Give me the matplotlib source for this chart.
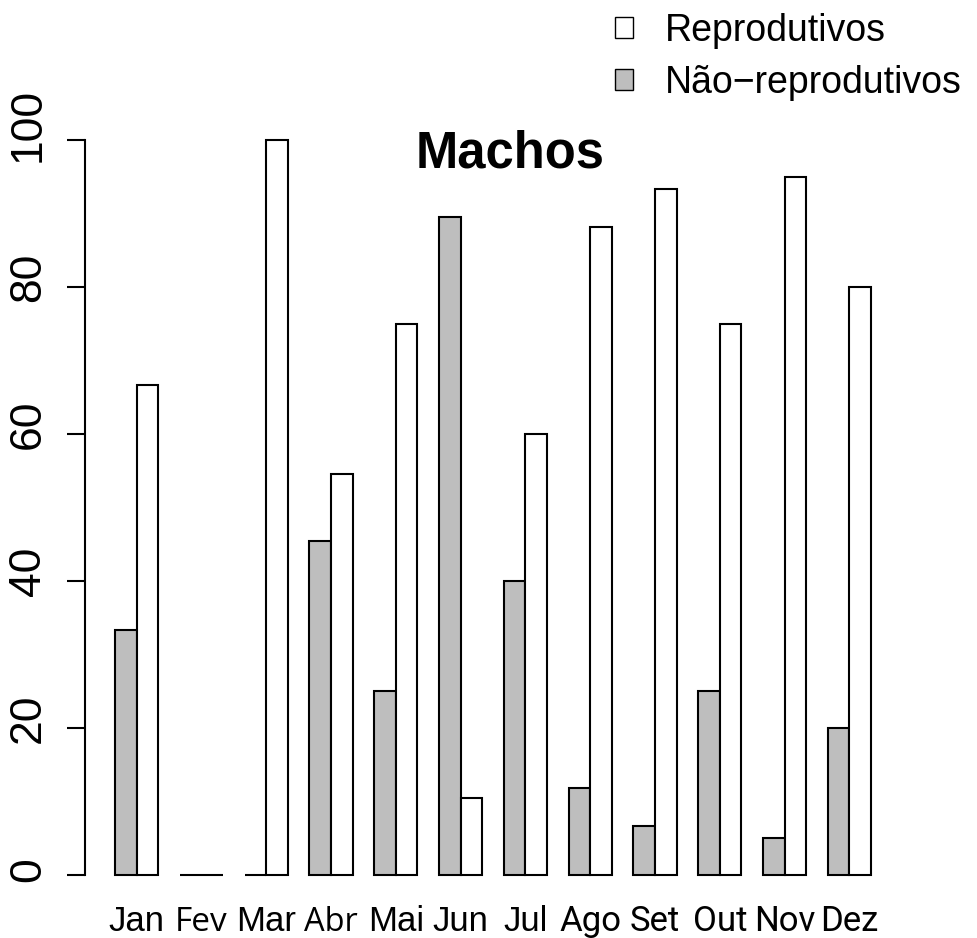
import matplotlib.pyplot as plt
from matplotlib.patches import Patch
from matplotlib.transforms import ScaledTranslation
import numpy as np

plt.rcParams['font.family'] = ['Liberation Sans', 'DejaVu Sans']

# data: percentage of males per month
months = ['Jan', 'Fev', 'Mar', 'Abr', 'Mai', 'Jun', 'Jul', 'Ago', 'Set', 'Out', 'Nov', 'Dez']
nao_reprodutivos = [33.3, 0, 0, 45.5, 25, 89.5, 40, 11.8, 6.7, 25, 5, 20]
reprodutivos = [66.7, 0, 100, 54.5, 75, 10.5, 60, 88.2, 93.3, 75, 95, 80]
y_ticks = [0, 20, 40, 60, 80, 100]

# the month labels in the source come in mixed fonts
label_fonts = {'Fev': ('Open Sans', 24), 'Abr': ('Open Sans', 23.5),
               'Ago': ('Roboto', 25), 'Set': ('Roboto', 25), 'Out': ('Roboto', 25),
               'Nov': ('Roboto', 25), 'Dez': ('Roboto', 25)}

fig = plt.figure(figsize=(9.77, 9.38), dpi=100)
ax = fig.add_axes([93.4 / 977, 1 - 875 / 938, 37 * 21.6 / 977, 735 / 938])

# R barplot(beside=TRUE) layout: space 1 before each group, bars width 1
group_start = 1 + 3 * np.arange(len(months))
ax.bar(group_start, nao_reprodutivos, width=1, align='edge', color='#BEBEBE',
       edgecolor='black', linewidth=1.5, clip_on=False)
ax.bar(group_start + 1, reprodutivos, width=1, align='edge', color='white',
       edgecolor='black', linewidth=1.5, clip_on=False)

ax.set_xlim(0, 37)
ax.set_ylim(0, 100)

for s in ['top', 'right', 'bottom']:
    ax.spines[s].set_visible(False)
ax.spines['left'].set_position(('outward', 6))
ax.spines['left'].set_bounds(0, 100)
ax.spines['left'].set_linewidth(1.5)

ax.set_yticks(y_ticks)
ax.set_yticklabels([str(v) for v in y_ticks], rotation=90, va='center', fontsize=32)
ax.tick_params(axis='y', length=13, width=1.5, pad=13)
# R draws these a bit off-centre, more so for longer labels
for lab in ax.get_yticklabels():
    dy = 0.2 * 18 * len(lab.get_text()) / 72
    lab.set_transform(lab.get_transform() + ScaledTranslation(0, dy, fig.dpi_scale_trans))

ax.set_xticks(group_start + 1)
ax.set_xticklabels(months)
ax.tick_params(axis='x', length=0, pad=40)
for lab in ax.get_xticklabels():
    fam, size = label_fonts.get(lab.get_text(), ('Liberation Sans', 25))
    lab.set_fontfamily(fam)
    lab.set_fontsize(size)
    lab.set_va('baseline')

fig.text(510 / 977, 1 - 167 / 938, 'Machos', ha='center', va='baseline',
         fontsize=36.5, fontweight='bold')

handles = [Patch(facecolor='white', edgecolor='black', linewidth=1),
           Patch(facecolor='#BEBEBE', edgecolor='black', linewidth=1)]
fig.legend(handles, ['Reprodutivos', 'Não\u2212reprodutivos'], loc='upper left',
           bbox_to_anchor=(615 / 977, 1 - 13 / 938), frameon=False, fontsize=27,
           borderpad=0, borderaxespad=0, handlelength=0.48, handleheight=0.48,
           handletextpad=0.85, labelspacing=0.42)

fig.savefig('out.png', dpi=100)
